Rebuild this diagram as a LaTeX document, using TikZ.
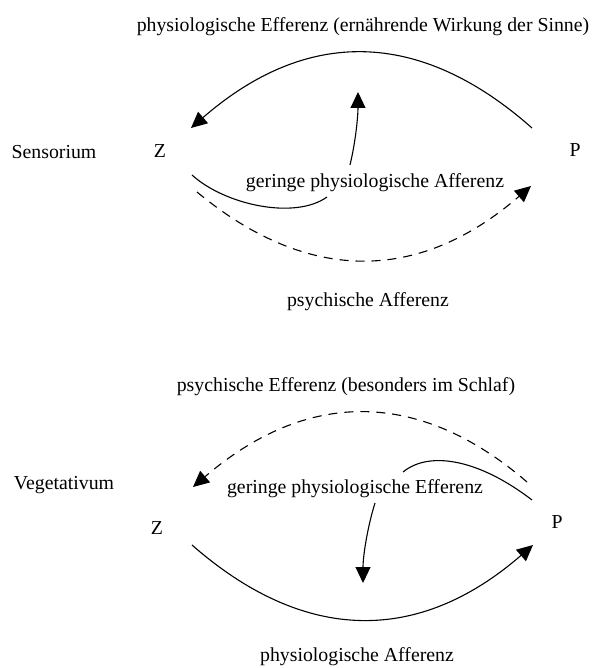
\documentclass[tikz,border=0pt]{standalone}
\usepackage{fontspec}
\setmainfont{Liberation Serif}
\usetikzlibrary{arrows.meta}

\begin{document}
\begin{tikzpicture}[x=1pt, y=-1pt,
        wordnode/.style = {inner sep=0pt, font=\fontsize{19.8}{22}\selectfont},
        solidflow/.style = {line width=1.1pt},
        dashflow/.style = {line width=1.1pt, dash pattern=on 9pt off 7pt},
        tip/.style = {-{Triangle[length=16pt, width=15pt]}},
    ]
    \useasboundingbox (0,0) rectangle (592,668);
    % Sensorium
    \node [wordnode] (effS) at (363,27) {physiologische Efferenz (ernährende Wirkung der Sinne)};
    \node [wordnode] (sens) at (54,152) {Sensorium};
    \node [wordnode] (Z1) at (160,151) {Z};
    \node [wordnode] (P1) at (575,150) {P};
    \node [wordnode] (gpA) at (375,183) {geringe physiologische Afferenz};
    \node [wordnode] (psA) at (368,302) {psychische Afferenz};
    \coordinate (a1) at (532,128);
    \coordinate (a2) at (191,128);
    \coordinate (b1) at (350,165);
    \coordinate (b2) at (358,92);
    \coordinate (c1) at (192,175);
    \coordinate (c2) at (327,197);
    \coordinate (d1) at (197,192);
    \coordinate (d2) at (531,186);
    \draw [solidflow, tip] (a1) .. controls (419,28) and (306,28) .. (a2);
    \draw [solidflow, tip] (b1) .. controls (356,140) and (358,115) .. (b2);
    \draw [solidflow] (c1) .. controls (225,205) and (295,220) .. (c2);
    \draw [dashflow, tip] (d1) .. controls (308,284) and (419,283) .. (d2);
    % Vegetativum
    \node [wordnode] (effV) at (346,387) {psychische Efferenz (besonders im Schlaf)};
    \node [wordnode] (veg) at (64,485) {Vegetativum};
    \node [wordnode] (Z2) at (157,528) {Z};
    \node [wordnode] (P2) at (557,522) {P};
    \node [wordnode] (gpE) at (355,489) {geringe physiologische Efferenz};
    \node [wordnode] (phA) at (357,657) {physiologische Afferenz};
    \coordinate (e1) at (527,482);
    \coordinate (e2) at (193,487);
    \coordinate (f1) at (532,500);
    \coordinate (f2) at (403,472);
    \coordinate (g1) at (375,503);
    \coordinate (g2) at (363,583);
    \coordinate (h1) at (192,545);
    \coordinate (h2) at (533,545);
    \draw [dashflow, tip] (e1) .. controls (418,388) and (306,390) .. (e2);
    \draw [solidflow] (f1) .. controls (480,460) and (430,450) .. (f2);
    \draw [solidflow, tip] (g1) .. controls (368,525) and (363,555) .. (g2);
    \draw [solidflow, tip] (h1) .. controls (305,644) and (419,644) .. (h2);
\end{tikzpicture}
\end{document}
